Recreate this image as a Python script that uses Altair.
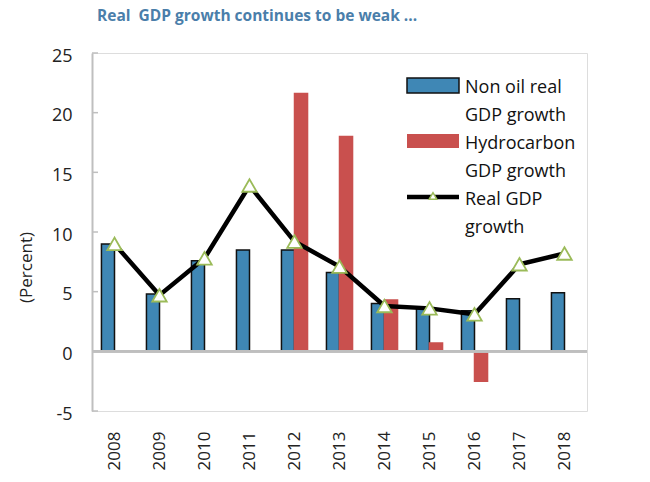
import altair as alt
import pandas as pd

years = ["2008", "2009", "2010", "2011", "2012", "2013", "2014", "2015", "2016", "2017", "2018"]
non_oil = [9.0, 4.8, 7.6, 8.5, 8.5, 6.6, 4.0, 3.7, 3.4, 4.4, 4.9]
hydro_years = ["2012", "2013", "2014", "2015", "2016"]
hydro = [21.6, 18.0, 4.3, 0.7, -2.5]
real_gdp = [9.0, 4.7, 7.8, 13.9, 9.2, 7.1, 3.8, 3.6, 3.1, 7.3, 8.2]
y_ticks = [-5, 0, 5, 10, 15, 20, 25]

series = ["Non oil real GDP growth", "Hydrocarbon GDP growth"]
bars_df = pd.DataFrame(
    {"year": years + hydro_years,
     "series": [series[0]] * len(years) + [series[1]] * len(hydro_years),
     "value": non_oil + hydro}
)
line_df = pd.DataFrame({"year": years, "value": real_gdp})
ticks_df = pd.DataFrame({"t": y_ticks})

BLUE = "#3F87B5"
RED = "#C9504E"
GREEN = "#9BBB59"
FONT = "Open Sans"

xscale = alt.Scale(domain=years, paddingInner=0.42, paddingOuter=0.21)
yscale = alt.Scale(domain=[-5, 25], nice=False, zero=False)

x_enc = alt.X("year:N", scale=xscale, sort=years,
              axis=alt.Axis(title=None, labelAngle=-90, labelFontSize=17, labelFont=FONT,
                            labelColor="#222222", domain=False, ticks=False, labelPadding=20))
y_axis = alt.Axis(title="(Percent)", values=y_ticks, grid=False, labelFontSize=18, labelFont=FONT,
                  labelColor="#222222", labelPadding=20, ticks=False, domainColor="#BFBFBF",
                  domainWidth=2, titleFont=FONT, titleFontSize=17, titleFontWeight="normal",
                  titleColor="#222222", titleAngle=-90, titleAlign="center", titleBaseline="middle",
                  titleX=-66, titleY=214, labelOffset=3, labelExpr="'' + datum.value")

bars = alt.Chart(bars_df).mark_bar(strokeWidth=1.5).encode(
    x=x_enc,
    xOffset=alt.XOffset("series:N", scale=alt.Scale(domain=series, paddingInner=0, paddingOuter=0)),
    y=alt.Y("value:Q", scale=yscale, axis=y_axis),
    fill=alt.Fill("series:N", scale=alt.Scale(domain=series, range=[BLUE, RED]), legend=None),
    stroke=alt.Stroke("series:N", scale=alt.Scale(domain=series, range=["#111111", RED]), legend=None),
)

zero_rule = alt.Chart(line_df).mark_rule(color="#BFBFBF", strokeWidth=2).encode(y=alt.datum(0))

yticks = alt.Chart(ticks_df).mark_rule(color="#BFBFBF", strokeWidth=1.5).encode(
    y=alt.Y("t:Q", scale=yscale), x=alt.value(0), x2=alt.value(6)
)

line = alt.Chart(line_df).mark_line(color="black", strokeWidth=4.5).encode(
    x=alt.X("year:N", scale=xscale, sort=years), y=alt.Y("value:Q", scale=yscale)
)
pts = alt.Chart(line_df).mark_point(shape="triangle-up", filled=True, fill="white", stroke=GREEN,
                                    strokeWidth=1.8, size=210, opacity=1).encode(
    x=alt.X("year:N", scale=xscale, sort=years), y=alt.Y("value:Q", scale=yscale)
)

one = pd.DataFrame({"k": [0]})
PX0 = 407 - 92
PX1 = 459 - 92
TX = 465 - 92
TOP = 53

leg_blue = alt.Chart(one).mark_rect(fill=BLUE, stroke="#111111", strokeWidth=1.5).encode(
    x=alt.value(PX0), x2=alt.value(PX1), y=alt.value(78 - TOP), y2=alt.value(93 - TOP))
leg_red = alt.Chart(one).mark_rect(fill=RED).encode(
    x=alt.value(PX0), x2=alt.value(PX1), y=alt.value(134 - TOP), y2=alt.value(148 - TOP))
leg_line = alt.Chart(one).mark_rule(color="black", strokeWidth=4.5).encode(
    x=alt.value(PX0), x2=alt.value(PX1), y=alt.value(197 - TOP))
leg_pt = alt.Chart(one).mark_point(shape="triangle-up", filled=True, fill="white", stroke=GREEN,
                                   strokeWidth=1.5, size=60, opacity=1).encode(
    x=alt.value((PX0 + PX1) / 2), y=alt.value(196 - TOP))

def leg_text(txt, base):
    return alt.Chart(one).mark_text(align="left", baseline="alphabetic", font=FONT, fontSize=18,
                                    color="#111111", lineBreak="\n", lineHeight=28).encode(
        x=alt.value(TX), y=alt.value(base - TOP), text=alt.value(txt))

legs = [leg_text("Non oil real\nGDP growth", 93), leg_text("Hydrocarbon\nGDP growth", 149),
        leg_text("Real GDP\ngrowth", 205)]

chart = alt.layer(bars, zero_rule, yticks, line, pts, leg_blue, leg_red, leg_line, leg_pt, *legs).properties(
    width=495, height=358,
    title=alt.TitleParams("Real\u00a0 GDP growth continues to be weak ...", anchor="start", frame="group",
                          dx=5, font=FONT, fontSize=15.5, fontWeight="bold", color="#4A7EAA", offset=23),
    autosize=alt.AutoSizeParams(type="none"),
    padding={"left": 92, "top": 53, "right": 63, "bottom": 71},
).configure_view(stroke=None).configure(background="white")

chart.save("out.html", embed_options={"renderer": "svg", "actions": False})
